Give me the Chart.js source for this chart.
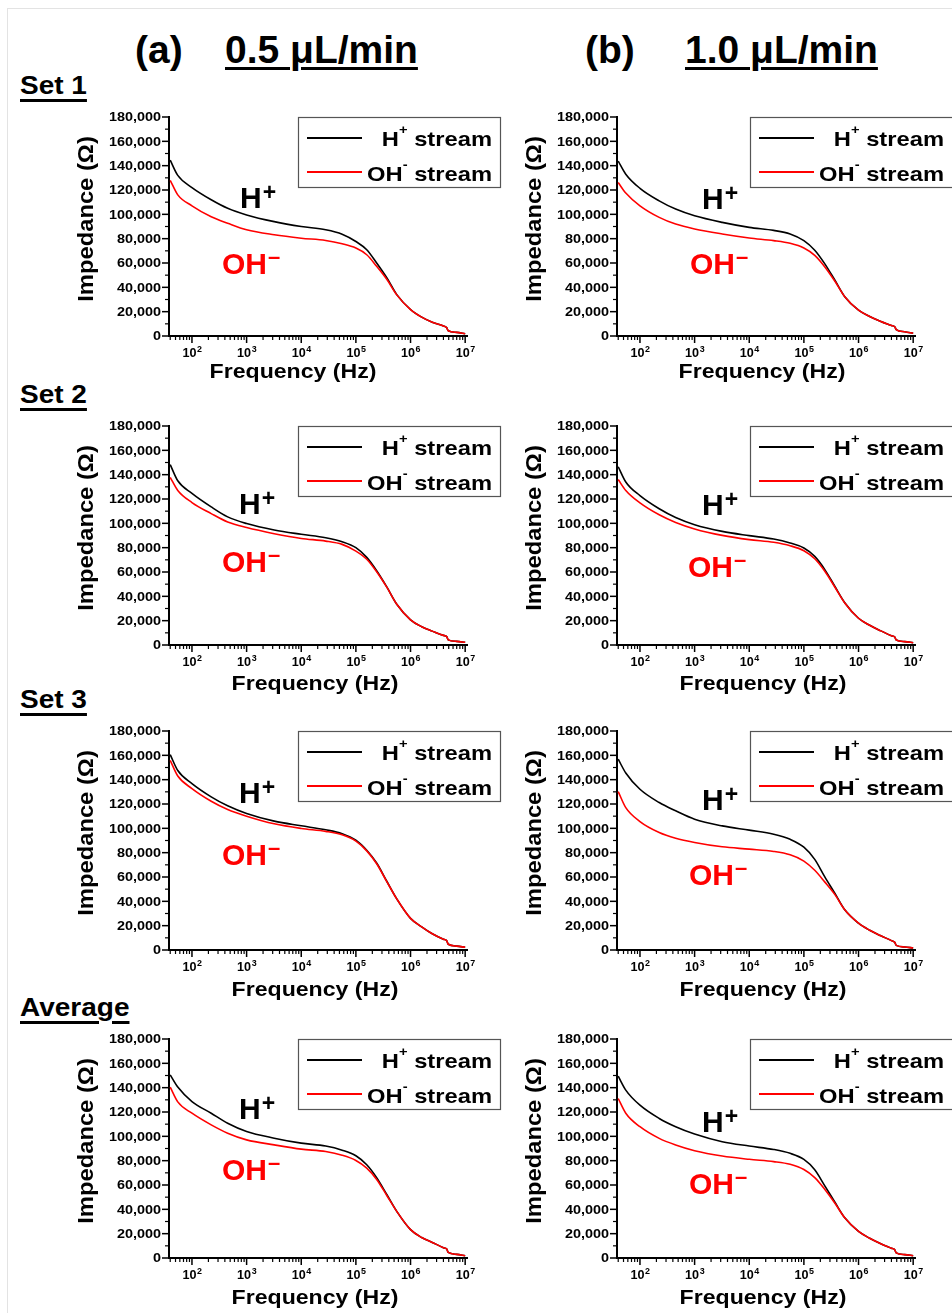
<!DOCTYPE html>
<html>
<head>
<meta charset="utf-8">
<script src="https://cdn.jsdelivr.net/npm/chart.js@4.4.1/dist/chart.umd.min.js"></script>
<style>
body { margin: 0; background: #fff; width: 952px; height: 1313px; position: relative; overflow: hidden; font-family: "Liberation Sans", Arial, sans-serif; }
.frame { position: absolute; left: 7px; top: 8px; right: 0; bottom: 0; border-top: 1px solid #e3e3e3; border-left: 1px solid #e3e3e3; }
.hd { position: absolute; top: 30px; font-weight: bold; font-size: 39px; line-height: 39px; white-space: nowrap; }
.u { text-decoration: underline; text-decoration-thickness: 3px; text-underline-offset: 4px; }
.set { position: absolute; left: 20px; font-weight: bold; font-size: 25px; line-height: 25px; white-space: nowrap;
       transform: scaleX(1.12); transform-origin: 0 0;
       text-decoration: underline; text-decoration-thickness: 2.5px; text-underline-offset: 5px; }
.panel { position: absolute; width: 494px; height: 299px; }
</style>
</head>
<body>
<div class="frame"></div>
<div class="hd" style="left:135px">(a)</div>
<div class="hd u" style="left:225px">0.5 μL/min</div>
<div class="hd" style="left:585px">(b)</div>
<div class="hd u" style="left:685px">1.0 μL/min</div>

<script>
// frequency points (Hz) shared by every curve
const frequencies = [40, 55, 100, 225, 450, 1000, 3200, 10000, 28000, 56000, 100000, 158000, 240000, 370000, 560000,
  1000000, 1600000, 2500000, 4000000, 4600000, 4900000, 7000000, 10000000];

// 0.5 uL/min
const h05Set1 = [144500, 132000, 122000, 112000, 105000, 99500, 94000, 90000, 87300, 83700, 77700, 70900, 60000, 47700, 34000, 21800, 15500, 11300, 8200, 6700, 4300, 3000, 1900];
const oh05Set1 = [128000, 116000, 107000, 98000, 92700, 87300, 83200, 80400, 78500, 75800, 72300, 66800, 57300, 46400, 33800, 21700, 15500, 11300, 8200, 6700, 4300, 3000, 1900];
const h05Set2 = [148300, 135000, 124600, 113500, 105300, 99800, 94500, 91000, 88200, 84900, 80000, 72000, 61000, 47500, 33500, 20700, 15000, 11400, 7900, 6900, 4200, 3000, 2200];
const oh05Set2 = [137800, 127000, 117100, 108000, 101100, 96500, 91500, 87600, 85400, 82700, 77200, 70500, 60200, 47300, 33500, 20700, 15000, 11400, 7900, 6900, 4200, 3000, 2200];
const h05Set3 = [160600, 147500, 136800, 125900, 118500, 112200, 105900, 102100, 98800, 95600, 90300, 82000, 71500, 56300, 42000, 26000, 19000, 13300, 8800, 7600, 4700, 3200, 2200];
const oh05Set3 = [155900, 143000, 132700, 122300, 115500, 110000, 103700, 99900, 97500, 94700, 89500, 81500, 70900, 56000, 42000, 26000, 19000, 13300, 8800, 7600, 4700, 3200, 2200];
const h05Avg = [150500, 140500, 128600, 119000, 110800, 104000, 98500, 94400, 92000, 88600, 84000, 76600, 66000, 52000, 38300, 23300, 16800, 12800, 8500, 7300, 4600, 3000, 1900];
const oh05Avg = [140400, 128300, 119000, 109400, 102600, 97100, 93000, 89500, 87500, 84500, 80200, 73900, 64600, 51200, 38300, 23300, 16800, 12800, 8500, 7300, 4600, 3000, 1900];

// 1.0 uL/min
const h10Set1 = [143800, 133000, 121400, 111100, 104300, 98800, 93400, 89300, 86800, 83900, 78400, 70500, 59500, 45800, 32300, 21200, 16000, 12200, 8600, 7600, 5300, 3500, 2200];
const oh10Set1 = [126100, 117500, 107000, 97500, 92000, 88000, 83900, 80600, 78400, 76200, 72400, 66300, 57000, 45000, 32300, 21200, 16000, 12200, 8600, 7600, 5300, 3500, 2200];
const h10Set2 = [146500, 134000, 122800, 112000, 104800, 98900, 93400, 89900, 87100, 83800, 79700, 72800, 62200, 48100, 34800, 22000, 16200, 11800, 7600, 6500, 4100, 2800, 1900];
const oh10Set2 = [136000, 127000, 116800, 107000, 100700, 95400, 90100, 86600, 84400, 81600, 77500, 70900, 60800, 47500, 34600, 22000, 16200, 11800, 7600, 6500, 4100, 2800, 1900];
const h10Set3 = [156800, 145500, 132100, 121200, 114400, 107500, 102000, 98500, 95200, 91000, 84500, 74500, 60300, 46500, 33000, 22000, 16200, 11900, 7700, 6300, 3800, 2500, 1600];
const oh10Set3 = [130200, 117000, 105600, 96600, 91900, 88400, 84800, 82900, 81000, 78200, 73100, 65500, 56000, 45500, 33000, 22000, 16200, 11900, 7700, 6300, 3800, 2500, 1600];
const h10Avg = [149400, 138000, 125600, 114700, 107900, 101900, 95600, 92000, 89200, 86000, 81000, 72500, 59500, 45800, 33000, 21800, 16200, 11900, 8000, 6800, 4200, 2800, 1900];
const oh10Avg = [131100, 119000, 107900, 98300, 92900, 88200, 83800, 81100, 79200, 77000, 72700, 66000, 56500, 45000, 33000, 21800, 16200, 11900, 8000, 6800, 4200, 2800, 1900];

// axis ticks
const yTickLabels = [0, 20000, 40000, 60000, 80000, 100000, 120000, 140000, 160000, 180000];
const xDecades = [100, 1000, 10000, 100000, 1000000, 10000000];
const xExponents = ['2', '3', '4', '5', '6', '7'];
const rowNames = ['Set 1', 'Set 2', 'Set 3', 'Average'];

const xMin = 38, xMax = 1.08e7;
const rowTops = [117, 426, 731, 1039];
const xTitleDy = [34, 37, 38, 38.5];

const panels = [
  { row: 0, col: 0, h: h05Set1, oh: oh05Set1, hPos: [71, 69], ohPos: [53, 135], titleDx: 124 },
  { row: 0, col: 1, h: h10Set1, oh: oh10Set1, hPos: [85, 70], ohPos: [73, 135], titleDx: 145 },
  { row: 1, col: 0, h: h05Set2, oh: oh05Set2, hPos: [70, 66], ohPos: [53, 124], titleDx: 146 },
  { row: 1, col: 1, h: h10Set2, oh: oh10Set2, hPos: [85, 67], ohPos: [71, 129], titleDx: 146 },
  { row: 2, col: 0, h: h05Set3, oh: oh05Set3, hPos: [70, 50], ohPos: [53, 112], titleDx: 146 },
  { row: 2, col: 1, h: h10Set3, oh: oh10Set3, hPos: [85, 57], ohPos: [72, 132], titleDx: 146 },
  { row: 3, col: 0, h: h05Avg, oh: oh05Avg, hPos: [70, 58], ohPos: [53, 119], titleDx: 146 },
  { row: 3, col: 1, h: h10Avg, oh: oh10Avg, hPos: [85, 71], ohPos: [72, 133], titleDx: 146 }
];

// log ticks 2..9 x 10^n plus decades
const xTickValues = [];
[10, 100, 1000, 10000, 100000, 1000000, 10000000].forEach(d => {
  for (let k = 1; k <= 9; k++) {
    const v = k * d;
    if (v >= xMin && v <= xMax) xTickValues.push(v);
  }
});

const FONT = '"Liberation Sans", Arial, sans-serif';

function txt(ctx, s, x, y, size, sx, align, color) {
  ctx.save();
  ctx.translate(x, y);
  ctx.scale(sx, 1);
  ctx.font = 'bold ' + size + 'px ' + FONT;
  ctx.textAlign = align || 'left';
  ctx.textBaseline = 'alphabetic';
  ctx.fillStyle = color || '#000';
  ctx.fillText(s, 0, 0);
  ctx.restore();
}

function textW(ctx, s, size, sx) {
  ctx.font = 'bold ' + size + 'px ' + FONT;
  return ctx.measureText(s).width * sx;
}

const decor = {
  id: 'decor',
  afterDraw(chart, args, o) {
    const { ctx, chartArea: a, scales: { x, y } } = chart;
    ctx.save();
    ctx.strokeStyle = '#000';

    // y ticks + labels
    y.ticks.forEach(t => {
      const py = y.getPixelForValue(t.value);
      const major = yTickLabels.includes(t.value);
      ctx.lineWidth = major ? 1.5 : 1.2;
      ctx.beginPath();
      ctx.moveTo(a.left - 1, py);
      ctx.lineTo(a.left - (major ? 7 : 4), py);
      ctx.stroke();
      if (major) txt(ctx, t.value.toLocaleString('en-US'), a.left - 8, py + 4.3, 12, 1.2, 'right');
    });

    // x ticks + labels
    xTickValues.forEach(v => {
      const px = x.getPixelForValue(v);
      const di = xDecades.indexOf(v);
      ctx.lineWidth = di >= 0 ? 1.5 : 1.2;
      ctx.beginPath();
      ctx.moveTo(px, a.bottom + 1);
      ctx.lineTo(px, a.bottom + (di >= 0 ? 7 : 4));
      ctx.stroke();
      if (di >= 0) {
        const w1 = textW(ctx, '10', 12, 1.05);
        const w2 = textW(ctx, xExponents[di], 8.5, 1.05);
        const x0 = px - (w1 + w2) / 2;
        const base = a.bottom + 21;
        txt(ctx, '10', x0, base, 12, 1.05);
        txt(ctx, xExponents[di], x0 + w1 + 0.5, base - 5.5, 8.5, 1.05);
      }
    });

    // axis titles
    txt(ctx, 'Frequency (Hz)', a.left + o.titleDx, a.bottom + o.titleDy + 7.5, 21, 1.1, 'center');
    ctx.save();
    ctx.translate(a.left - 84, a.top + 102);
    ctx.rotate(-Math.PI / 2);
    txt(ctx, 'Impedance (Ω)', 0, 7.8, 22, 1.08, 'center');
    ctx.restore();

    // legend box
    const bx = a.left + o.boxDx, by = a.top;
    ctx.lineWidth = 1.2;
    ctx.strokeStyle = '#555';
    ctx.strokeRect(bx + 0.5, by + 0.5, o.boxW, 70);
    ctx.lineWidth = 2;
    ctx.strokeStyle = '#000';
    ctx.beginPath(); ctx.moveTo(bx + 9, by + 21); ctx.lineTo(bx + 64, by + 21); ctx.stroke();
    ctx.strokeStyle = '#ff0000';
    ctx.beginPath(); ctx.moveTo(bx + 9, by + 55); ctx.lineTo(bx + 64, by + 55); ctx.stroke();
    const right = bx + 194;
    [['H', '+', by + 29], ['OH', '-', by + 63.5]].forEach(([main, sup, base]) => {
      const ws = textW(ctx, ' stream', 21, 1.13);
      const wsup = textW(ctx, sup, 13, 1.13);
      const wm = textW(ctx, main, 21, 1.13);
      const x0 = right - ws - wsup - wm;
      txt(ctx, main, x0, base, 21, 1.13);
      txt(ctx, sup, x0 + wm, base - 12, 13, 1.13);
      txt(ctx, ' stream', x0 + wm + wsup, base, 21, 1.13);
    });

    // in-plot labels
    const hx = a.left + o.hPos[0], hy = a.top + o.hPos[1] + 22;
    txt(ctx, 'H', hx, hy, 30, 1);
    txt(ctx, '+', hx + textW(ctx, 'H', 30, 1) + 1, hy - 8.5, 23, 1);
    const ox = a.left + o.ohPos[0], oy = a.top + o.ohPos[1] + 22;
    txt(ctx, 'OH', ox, oy, 30, 1, 'left', '#ff0000');
    txt(ctx, '–', ox + textW(ctx, 'OH', 30, 1) + 1, oy - 10, 22, 1, 'left', '#ff0000');

    ctx.restore();
  }
};

rowNames.forEach((name, r) => {
  const d = document.createElement('div');
  d.className = 'set';
  d.style.top = (rowTops[r] - 23 - 21.2) + 'px';
  d.textContent = name;
  document.body.appendChild(d);
});

panels.forEach(p => {
  const wrap = document.createElement('div');
  wrap.className = 'panel';
  wrap.style.left = (p.col ? 458 : 10) + 'px';
  wrap.style.top = (rowTops[p.row] - 20) + 'px';
  const cv = document.createElement('canvas');
  cv.width = 494;
  cv.height = 299;
  wrap.appendChild(cv);
  document.body.appendChild(wrap);

  const toXY = vals => frequencies.map((f, i) => ({ x: f, y: vals[i] }));

  new Chart(cv, {
    type: 'line',
    data: {
      datasets: [
        { label: 'H+ stream', data: toXY(p.h), borderColor: '#000000', borderWidth: 1.6, order: 1 },
        { label: 'OH- stream', data: toXY(p.oh), borderColor: '#ff0000', borderWidth: 1.6, order: 0 }
      ]
    },
    options: {
      responsive: false,
      animation: false,
      events: [],
      layout: { padding: { left: 0, right: 37, top: 20, bottom: 0 } },
      elements: { point: { radius: 0 }, line: { cubicInterpolationMode: 'monotone' } },
      plugins: {
        legend: { display: false },
        tooltip: { enabled: false },
        decor: {
          titleDx: p.titleDx,
          titleDy: xTitleDy[p.row],
          boxDx: p.col ? 133 : 129,
          boxW: p.col ? 210 : 202,
          hPos: p.hPos,
          ohPos: p.ohPos
        }
      },
      scales: {
        x: {
          type: 'logarithmic',
          min: xMin,
          max: xMax,
          grid: { display: true, drawOnChartArea: false, drawTicks: false },
          border: { display: true, color: '#000', width: 2 },
          ticks: { display: false },
          afterBuildTicks: s => { s.ticks = xTickValues.map(v => ({ value: v })); },
          afterFit: s => { s.height = 60; s.paddingLeft = 0; s.paddingRight = 0; }
        },
        y: {
          type: 'linear',
          min: 0,
          max: 180000,
          grid: { display: true, drawOnChartArea: false, drawTicks: false },
          border: { display: true, color: '#000', width: 2 },
          ticks: { display: false, stepSize: 10000 },
          afterFit: s => { s.width = 159; s.paddingTop = 0; s.paddingBottom = 0; }
        }
      }
    },
    plugins: [decor]
  });
});
</script>
</body>
</html>
